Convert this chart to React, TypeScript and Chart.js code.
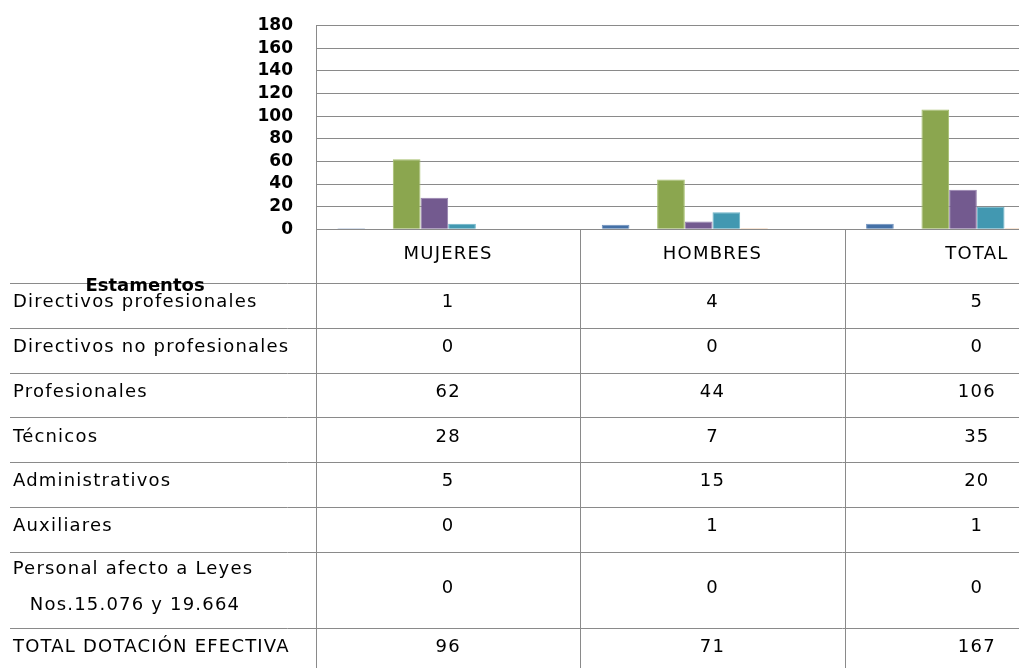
import React, { useEffect, useRef } from "react";
import { Chart, registerables } from "chart.js";

Chart.register(...registerables);

const categories = ["MUJERES", "HOMBRES", "TOTAL"];

const seriesNames = [
  "Directivos profesionales",
  "Directivos no profesionales",
  "Profesionales",
  "Técnicos",
  "Administrativos",
  "Auxiliares",
  "Personal afecto a Leyes|Nos.15.076 y 19.664",
  "TOTAL DOTACIÓN EFECTIVA",
];

const directivosProf = [1, 4, 5];
const directivosNoProf = [0, 0, 0];
const profesionales = [62, 44, 106];
const tecnicos = [28, 7, 35];
const administrativos = [5, 15, 20];
const auxiliares = [0, 1, 1];
const personalLeyes = [0, 0, 0];
const totalDotacion = [96, 71, 167];

const seriesValues = [
  directivosProf,
  directivosNoProf,
  profesionales,
  tecnicos,
  administrativos,
  auxiliares,
  personalLeyes,
  totalDotacion,
];

const fillColors = [
  "#4470A6",
  "#A94845",
  "#8BA64F",
  "#735A8F",
  "#4298B1",
  "#DA8540",
  "#2C4D75",
  "rgba(0,0,0,0)",
];
const edgeColors = [
  "#6E90BD",
  "#C87573",
  "#A6C06E",
  "#9580AD",
  "#6CB4C8",
  "#F0A66A",
  "#4F6F95",
  "rgba(0,0,0,0)",
];

const yMin = 0;
const yMax = 180;
const yStep = 20;
const axisTitle = "Estamentos";

const CANVAS_W = 1120;
const CANVAS_H = 690;
const PLOT_TOP = 25.7;
const PLOT_BOTTOM = 229.3;
const LINE = "#8a8a8a";
const FONT = '"DejaVu Sans", sans-serif';

const tablePlugin = {
  id: "dataTable",
  afterDraw(chart: any) {
    const ctx = chart.ctx as CanvasRenderingContext2D;
    const xs = chart.scales.x;
    const area = chart.chartArea;
    const n = categories.length;
    const step = xs.getPixelForValue(1) - xs.getPixelForValue(0);
    const top = area.bottom;
    const headerH = 53.5;
    const rowH = 44.9;
    const tallH = 76.2;

    ctx.save();
    ctx.strokeStyle = LINE;
    ctx.lineWidth = 1;

    const rowTops: number[] = [];
    let y = top + headerH;
    for (let i = 0; i < seriesNames.length; i++) {
      rowTops.push(y);
      y += seriesNames[i].includes("|") ? tallH : rowH;
    }
    rowTops.push(y);

    for (const ry of rowTops) {
      const py = Math.round(ry) + 0.5;
      ctx.beginPath();
      ctx.moveTo(10, py);
      ctx.lineTo(CANVAS_W, py);
      ctx.stroke();
    }
    for (let i = 0; i <= n; i++) {
      const cx = xs.getPixelForValue(0) - step / 2 + i * step;
      const px = Math.round(cx) + 0.5;
      ctx.beginPath();
      ctx.moveTo(px, top);
      ctx.lineTo(px, CANVAS_H);
      ctx.stroke();
    }

    ctx.fillStyle = "#000";
    ctx.font = `18px ${FONT}`;
    (ctx as any).letterSpacing = "1.2px";
    ctx.textBaseline = "alphabetic";

    ctx.textAlign = "center";
    categories.forEach((c, i) => {
      ctx.fillText(c, xs.getPixelForValue(i), top + 30);
    });

    seriesNames.forEach((name, r) => {
      const rt = rowTops[r];
      if (name.includes("|")) {
        const parts = name.split("|");
        ctx.textAlign = "center";
        ctx.fillText(parts[0], 133, rt + 22);
        ctx.fillText(parts[1], 135, rt + 58);
        seriesValues[r].forEach((v, i) => {
          ctx.fillText(String(v), xs.getPixelForValue(i), rt + 41);
        });
      } else {
        ctx.textAlign = "left";
        ctx.fillText(name, 13, rt + 24);
        ctx.textAlign = "center";
        seriesValues[r].forEach((v, i) => {
          ctx.fillText(String(v), xs.getPixelForValue(i), rt + 24);
        });
      }
    });

    ctx.font = `bold 18px ${FONT}`;
    (ctx as any).letterSpacing = "0px";
    ctx.textAlign = "center";
    ctx.fillText(axisTitle, 145, top + 62);

    ctx.restore();
  },
};

export default function App() {
  const ref = useRef<HTMLCanvasElement | null>(null);

  useEffect(() => {
    document.body.style.margin = "0";
    const canvas = ref.current;
    if (!canvas) return;
    const chart = new Chart(canvas, {
      type: "bar",
      data: {
        labels: categories,
        datasets: seriesNames.map((name, i) => ({
          label: name.replace("|", " "),
          data: seriesValues[i],
          backgroundColor: fillColors[i],
          borderColor: edgeColors[i],
          borderWidth: 1,
          categoryPercentage: 0.838,
          barPercentage: 1,
        })),
      },
      options: {
        responsive: false,
        animation: false,
        devicePixelRatio: 1,
        layout: {
          padding: {
            top: PLOT_TOP,
            right: 11,
            left: 0,
            bottom: CANVAS_H - PLOT_BOTTOM,
          },
        },
        plugins: {
          legend: { display: false },
          tooltip: { enabled: false },
          title: { display: false },
        },
        scales: {
          x: {
            display: false,
          },
          y: {
            min: yMin,
            max: yMax,
            afterFit: (s: any) => {
              s.width = 316;
            },
            grid: {
              color: LINE,
              lineWidth: 1,
              drawTicks: true,
              tickLength: 23,
              tickColor: "rgba(0,0,0,0)",
            },
            border: { display: true, color: LINE, width: 1 },
            ticks: {
              stepSize: yStep,
              autoSkip: false,
              padding: 0,
              color: "#000",
              font: { family: "DejaVu Sans", size: 17, weight: "bold" },
            },
          },
        },
      },
      plugins: [tablePlugin],
    });
    return () => chart.destroy();
  }, []);

  return (
    <div
      style={{
        position: "fixed",
        left: 0,
        top: 0,
        width: 1019,
        height: 668,
        overflow: "hidden",
        background: "#fff",
      }}
    >
      <canvas
        ref={ref}
        width={CANVAS_W}
        height={CANVAS_H}
        style={{ width: CANVAS_W, height: CANVAS_H, display: "block" }}
      />
    </div>
  );
}
